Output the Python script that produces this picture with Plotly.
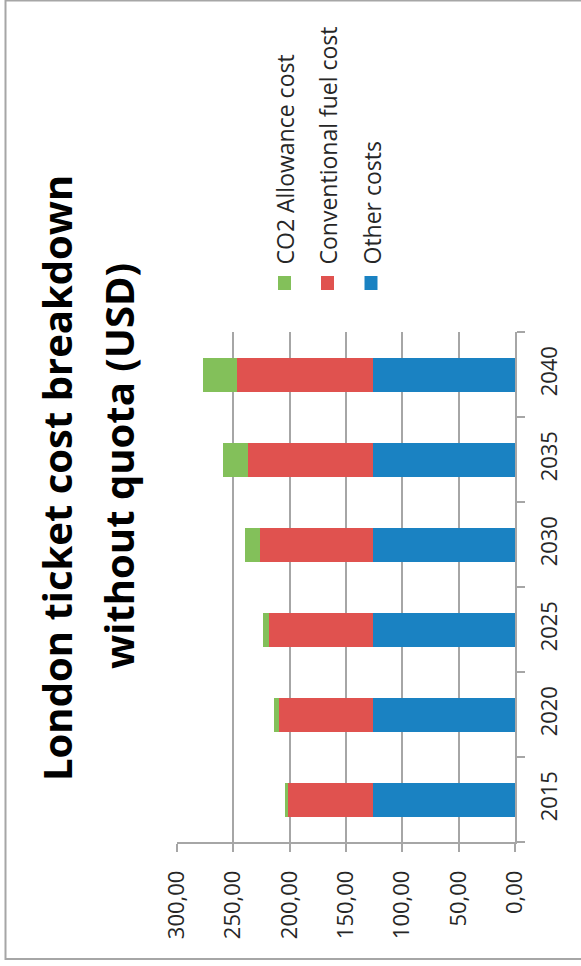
import plotly.graph_objects as go

# Stacked cost components per year (USD)
years = ["2015", "2020", "2025", "2030", "2035", "2040"]
other_costs = [126.0, 126.0, 126.0, 126.0, 126.0, 126.0]
fuel_cost = [75.8, 83.5, 92.4, 100.1, 111.2, 120.7]
co2_cost = [2.1, 4.4, 5.3, 13.3, 21.7, 29.9]

series_names = ["Other costs", "Conventional fuel cost", "CO2 Allowance cost"]
series_colors = ["#1A82C2", "#E0524F", "#83C05A"]

value_ticks = [0, 50, 100, 150, 200, 250, 300]
value_tick_text = ["0,00", "50,00", "100,00", "150,00", "200,00", "250,00", "300,00"]

title_lines = ["London ticket cost breakdown", "without quota (USD)"]

FONT = "Open Sans"
GRAY = "#A6A6A6"
TEXT = "#262626"

W, H = 581, 966
ML, MR, MT, MB = 177, 66, 332, 124
PW, PH = W - ML - MR, H - MT - MB


def px(xp):
    return (xp - ML) / PW


def py(yp):
    return (H - MB - yp) / PH


fig = go.Figure()
for name, vals, col in zip(series_names, [other_costs, fuel_cost, co2_cost], series_colors):
    fig.add_trace(go.Bar(
        y=years, x=vals, name=name, orientation="h",
        marker=dict(color=col, line=dict(width=0)),
        showlegend=False,
    ))

shapes = []
annotations = []

# outer frame
shapes.append(dict(type="rect", xref="paper", yref="paper",
                   x0=px(5.5), x1=px(600), y0=py(959), y1=py(0.5),
                   line=dict(color=GRAY, width=2), fillcolor="rgba(0,0,0,0)", layer="below"))

# rotated title, one annotation per line
title_x = [56, 118]
title_y = [478, 466]
for txt, xc, yc in zip(title_lines, title_x, title_y):
    annotations.append(dict(
        text="<b>%s</b>" % txt, xref="paper", yref="paper",
        x=px(xc), y=py(yc), xanchor="center", yanchor="middle",
        textangle=-90, showarrow=False,
        font=dict(family=FONT, size=40, color="#000000"),
    ))

# rotated legend
legend_order = ["CO2 Allowance cost", "Conventional fuel cost", "Other costs"]
legend_colors = {n: c for n, c in zip(series_names, series_colors)}
legend_x = [284.5, 327.5, 371]
for name, xc in zip(legend_order, legend_x):
    shapes.append(dict(type="rect", xref="paper", yref="paper",
                       x0=px(xc - 6.5), x1=px(xc + 6.5), y0=py(290), y1=py(276),
                       line=dict(width=0), fillcolor=legend_colors[name]))
    annotations.append(dict(
        text=name, xref="paper", yref="paper",
        x=px(xc), y=py(267), xanchor="center", yanchor="bottom",
        textangle=-90, showarrow=False,
        font=dict(family=FONT, size=23, color=TEXT),
    ))

fig.update_layout(
    width=W, height=H,
    margin=dict(l=ML, r=MR, t=MT, b=MB, pad=0),
    paper_bgcolor="white", plot_bgcolor="white",
    barmode="stack", bargap=0.6,
    font=dict(family=FONT, size=22, color=TEXT),
    shapes=shapes, annotations=annotations,
    xaxis=dict(
        range=[300, 0], tickvals=value_ticks, ticktext=value_tick_text,
        tickangle=-90, showgrid=True, gridcolor=GRAY, gridwidth=1.5,
        showline=True, linecolor=GRAY, linewidth=1.5,
        ticks="outside", ticklen=8, tickcolor=GRAY, tickwidth=1.5,
        zeroline=False, side="bottom", ticklabelstandoff=10,
        tickfont=dict(family=FONT, size=22, color=TEXT),
    ),
    yaxis=dict(
        categoryorder="array", categoryarray=years,
        side="right", tickangle=-90, tickson="boundaries",
        showline=True, linecolor=GRAY, linewidth=1.5,
        ticks="outside", ticklen=8, tickcolor=GRAY, tickwidth=1.5,
        showgrid=False, ticklabelstandoff=14,
        tickfont=dict(family=FONT, size=22, color=TEXT),
    ),
)

fig.write_html("out.html")
